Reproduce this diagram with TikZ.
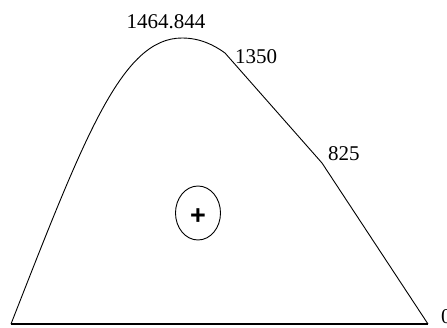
\documentclass[tikz,border=0pt]{standalone}
\usepackage{fontspec}
\setmainfont{Liberation Serif}
\newfontfamily\plusfont{Liberation Sans}
\usetikzlibrary{positioning, calc, shapes.geometric}

\begin{document}
\begin{tikzpicture}[x=1pt, y=-1pt,
        outline/.style={draw=black, line width=0.9pt, line join=round},
        base/.style={draw=black, line width=2.2pt},
        val/.style={inner sep=0pt, font=\fontsize{21}{25}\selectfont},
        cgmark/.style={draw, ellipse, line width=0.9pt, minimum width=45pt, minimum height=54pt, inner sep=0pt},
    ]
        \useasboundingbox (0,0) rectangle (447,327);

        \coordinate (bl)   at (11,324);
        \coordinate (br)   at (428,324);
        \coordinate (peak) at (182,38);
        \coordinate (k1)   at (225,53);
        \coordinate (k2)   at (322,163);

        % outline of the curve
        \draw[outline] (bl) .. controls (85,135) and (122,38) .. (peak)
                            .. controls (200,38) and (214,45) .. (k1)
                            -- (k2) -- (br);
        \draw[base] (bl) -- (br);

        \node[val]               (lpeak) at (166,22)  {1464.844};
        \node[val, anchor=west]  (l1350) at (235,57)  {1350};
        \node[val, anchor=west]  (l825)  at (328,154) {825};
        \node[val, anchor=west]  (l0)    at (441,317) {0};

        \node[cgmark] (cg) at (198,213) {};
        \node[font=\plusfont\fontsize{27}{30}\selectfont\bfseries, inner sep=0pt] (plus) at (198,217) {+};
    \end{tikzpicture}
\end{document}
